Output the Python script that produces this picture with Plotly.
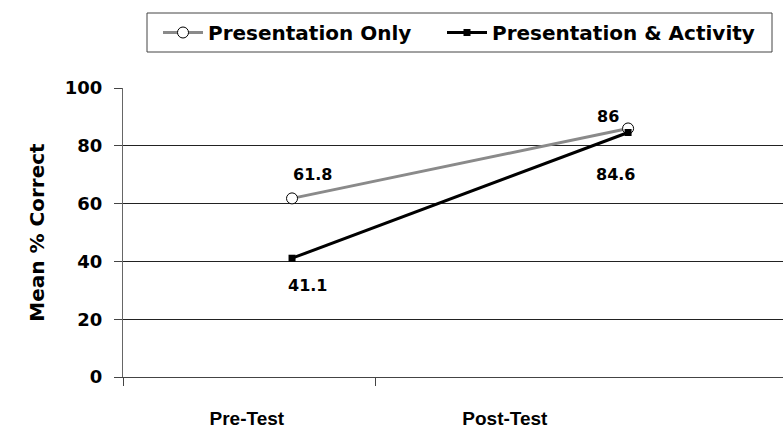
import plotly.graph_objects as go

categories = ["Pre-Test", "Post-Test"]
presentation_only = [61.8, 86]
presentation_activity = [41.1, 84.6]
series_names = ["Presentation Only", "Presentation & Activity"]
y_ticks = [0, 20, 40, 60, 80, 100]

W, H = 783, 428
L, R, T, B = 123, 0, 88, 51
pw = W - L - R
ph = H - T - B

BOLD = "DejaVu Sans"


def px_x(p):
    return (p - L) / pw


def px_y(p):
    return (H - B - p) / ph


fig = go.Figure()
fig.add_trace(go.Scatter(
    x=categories, y=presentation_only, name=series_names[0], mode="lines+markers",
    line=dict(color="#8a8a8a", width=3),
    marker=dict(symbol="circle", size=11, color="white", line=dict(color="black", width=1)),
    xaxis="x", yaxis="y", legend="legend"))
fig.add_trace(go.Scatter(
    x=categories, y=presentation_activity, name=series_names[1], mode="lines+markers",
    line=dict(color="black", width=3),
    marker=dict(symbol="square", size=7, color="black"),
    xaxis="x", yaxis="y", legend="legend2"))

# data labels
offsets_po = [(20, 24), (-20, 12)]
offsets_pa = [(15, -27), (-13, -42)]
for vals, offs in ((presentation_only, offsets_po), (presentation_activity, offsets_pa)):
    for c, v, (dx, dy) in zip(categories, vals, offs):
        fig.add_annotation(x=c, y=v, xref="x", yref="y", text=f"{v:g}", showarrow=False,
                           xshift=dx, yshift=dy,
                           font=dict(family=BOLD, size=16, color="black", weight="bold"))

# label axis for categories
fig.add_trace(go.Scatter(x=categories, y=[None, None], xaxis="x2", yaxis="y",
                         showlegend=False, hoverinfo="skip"))
fig.add_trace(go.Scatter(x=[None], y=[None], xaxis="x3", yaxis="y", showlegend=False,
                         hoverinfo="skip"))

# legend frame
fig.add_shape(type="rect", xref="paper", yref="paper",
              x0=px_x(147), x1=px_x(772), y0=px_y(52), y1=px_y(13),
              line=dict(color="#444", width=1), fillcolor="rgba(0,0,0,0)", layer="above")

legend_common = dict(orientation="h", xanchor="left", yanchor="middle", y=px_y(32.5),
                     borderwidth=0, bgcolor="rgba(0,0,0,0)", itemwidth=40,
                     font=dict(family=BOLD, size=20, color="black", weight="bold"))

fig.update_layout(
    width=W, height=H,
    margin=dict(l=L, r=R, t=T, b=B, pad=0, autoexpand=False),
    plot_bgcolor="white", paper_bgcolor="white",
    xaxis=dict(type="category", range=[-0.503, 1.461], showticklabels=False, ticks="",
               showgrid=False, zeroline=False, showline=True, linecolor="#444", linewidth=1,
               automargin=False),
    xaxis2=dict(type="category", overlaying="x", side="bottom", range=[-0.48, 2.078],
                showgrid=False, zeroline=False, showline=False, ticks="", automargin=False,
                tickfont=dict(family="Liberation Sans", size=19, color="black", weight="bold"),
                ticklabelstandoff=28),
    xaxis3=dict(overlaying="x", range=[0, 1], tickvals=[0, 252 / pw], ticks="outside",
                ticklen=8, tickcolor="#444", showticklabels=False, showgrid=False,
                zeroline=False, showline=False, automargin=False),
    yaxis=dict(range=[0, 100], tickvals=y_ticks, ticks="outside", ticklen=8, tickcolor="#444",
               showline=True, linecolor="#666", linewidth=1, showgrid=True, gridcolor="#222",
               gridwidth=1, zeroline=False, ticklabelstandoff=8, automargin=False,
               tickfont=dict(family=BOLD, size=18, color="black", weight="bold"),
               title=dict(text="Mean % Correct", standoff=14,
                          font=dict(family=BOLD, size=20, color="black", weight="bold"))),
    legend=dict(x=px_x(158), **legend_common),
    legend2=dict(x=px_x(442), **legend_common),
    showlegend=True,
)

fig.write_html("out.html", config={"displayModeBar": False},
               post_script="document.body.style.margin='0px';")
